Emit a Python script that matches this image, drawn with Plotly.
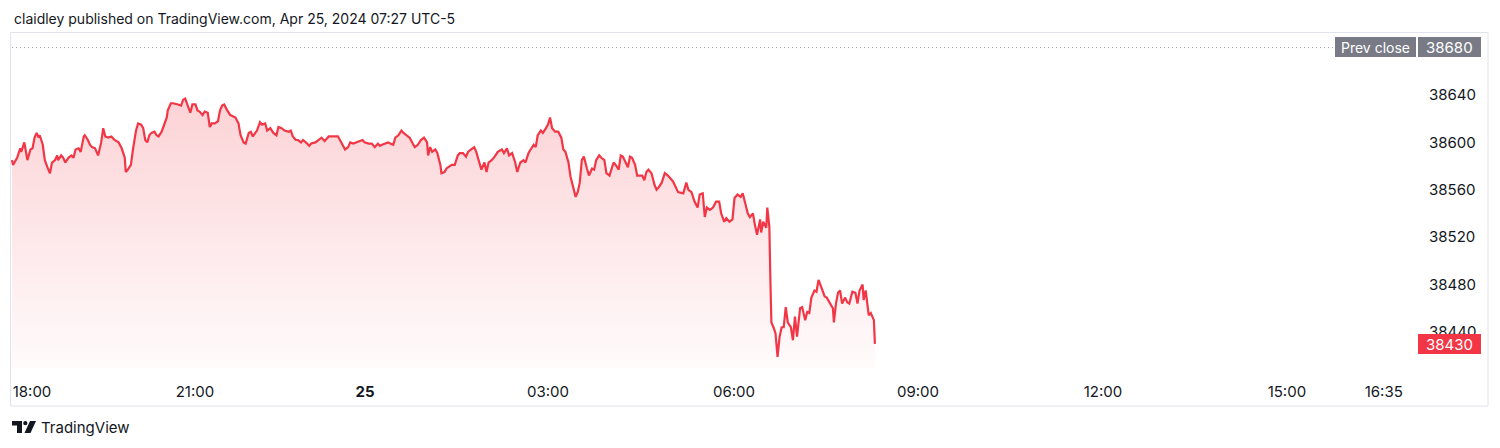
import plotly.graph_objects as go

# ---------------- data ----------------
# bar offset (minutes of trading, gaps compressed) since the 18:00 session open
bars = [0, 1, 5, 8, 9, 12, 13, 15, 18, 20, 22, 24, 26, 27, 30, 32, 35, 37, 39, 42, 44, 45, 48, 50, 52, 55, 58, 60,
        62, 65, 67, 70, 71, 74, 76, 78, 81, 84, 87, 89, 91, 94, 97, 100, 104, 107, 110, 111, 113, 116, 118, 121, 123,
        126, 128, 130, 132, 134, 136, 139, 141, 143, 146, 149, 151, 152, 155, 157, 160, 162, 165, 167, 169, 172, 174,
        176, 179, 181, 183, 186, 188, 191, 193, 195, 198, 201, 203, 205, 207, 210, 213, 218, 221, 223, 226, 228, 231,
        233, 235, 239, 242, 244, 247, 249, 252, 255, 258, 260, 263, 266, 270, 272, 274, 277, 279, 282, 284, 288, 290,
        292, 296, 299, 302, 305, 309, 311, 314, 318, 320, 322, 325, 328, 330, 333, 336, 339, 342, 344, 348, 351, 354,
        357, 359, 361, 364, 367, 369, 372, 374, 377, 380, 382, 385, 388, 391, 393, 396, 399, 402, 405, 406, 408, 410,
        413, 415, 418, 419, 422, 424, 426, 429, 432, 435, 437, 440, 443, 445, 448, 451, 453, 456, 458, 461, 463, 465,
        468, 471, 474, 478, 480, 483, 485, 488, 491, 493, 496, 499, 501, 504, 506, 509, 511, 513, 516, 518, 521, 523,
        525, 527, 530, 533, 536, 538, 540, 543, 545, 548, 550, 552, 554, 556, 558, 561, 563, 566, 568, 570, 573, 575,
        578, 580, 583, 587, 589, 592, 594, 596, 599, 601, 603, 605, 608, 610, 613, 615, 617, 619, 621, 624, 627, 629,
        631, 634, 637, 640, 645, 650, 655, 658, 660, 663, 666, 669, 671, 674, 676, 678, 681, 684, 687, 690, 692, 695,
        697, 700, 703, 705, 708, 711, 713, 715, 718, 720, 723, 725, 727, 730, 731, 733, 736, 737, 739, 740, 741, 743,
        745, 747, 749, 751, 753, 755, 757, 760, 762, 764, 766, 767, 769, 771, 774, 776, 778, 780, 783, 785, 787, 790,
        793, 795, 798, 801, 802, 804, 806, 808, 810, 813, 815, 817, 820, 823, 825, 827, 830, 831, 833, 836, 838, 841,
        842]

prices = [38585, 38581, 38587, 38595, 38592, 38600, 38595, 38585, 38594, 38595, 38604, 38608, 38604, 38606, 38598,
          38585, 38578, 38574, 38583, 38585, 38589, 38585, 38589, 38587, 38583, 38587, 38589, 38587, 38594, 38595,
          38592, 38605, 38606, 38602, 38598, 38596, 38595, 38589, 38600, 38612, 38605, 38604, 38605, 38602, 38600,
          38595, 38587, 38575, 38577, 38581, 38594, 38610, 38616, 38615, 38612, 38602, 38600, 38606, 38608, 38609,
          38606, 38605, 38609, 38617, 38621, 38627, 38633, 38633, 38632, 38632, 38631, 38636, 38637, 38630, 38625,
          38632, 38632, 38627, 38626, 38623, 38626, 38625, 38613, 38616, 38616, 38618, 38627, 38631, 38632, 38627,
          38623, 38621, 38616, 38606, 38600, 38599, 38608, 38609, 38605, 38610, 38617, 38615, 38616, 38610, 38612,
          38608, 38606, 38613, 38612, 38610, 38609, 38610, 38605, 38602, 38602, 38600, 38602, 38599, 38597, 38599,
          38600, 38602, 38604, 38601, 38605, 38605, 38605, 38605, 38602, 38599, 38594, 38596, 38600, 38599, 38600,
          38601, 38602, 38600, 38599, 38599, 38596, 38599, 38597, 38598, 38599, 38600, 38599, 38598, 38604, 38606,
          38610, 38608, 38606, 38604, 38599, 38596, 38598, 38602, 38604, 38600, 38589, 38596, 38592, 38594, 38591,
          38581, 38574, 38575, 38578, 38579, 38581, 38581, 38589, 38591, 38591, 38588, 38592, 38594, 38596, 38592,
          38583, 38577, 38583, 38575, 38583, 38585, 38588, 38592, 38594, 38591, 38595, 38589, 38591, 38583, 38575,
          38583, 38585, 38583, 38591, 38594, 38598, 38596, 38606, 38610, 38608, 38612, 38615, 38621, 38612, 38609,
          38609, 38604, 38594, 38592, 38583, 38571, 38562, 38554, 38558, 38566, 38585, 38588, 38578, 38572, 38578,
          38577, 38585, 38589, 38587, 38585, 38574, 38572, 38583, 38581, 38577, 38589, 38588, 38583, 38579, 38588,
          38587, 38581, 38572, 38572, 38572, 38568, 38575, 38577, 38574, 38564, 38560, 38562, 38566, 38574, 38572,
          38567, 38558, 38557, 38566, 38560, 38558, 38550, 38545, 38556, 38557, 38537, 38545, 38543, 38545, 38550,
          38550, 38540, 38533, 38536, 38533, 38535, 38553, 38556, 38554, 38557, 38549, 38540, 38537, 38540, 38530,
          38522, 38535, 38524, 38533, 38528, 38545, 38529, 38484, 38448, 38444, 38439, 38419, 38436, 38444, 38444,
          38461, 38448, 38444, 38433, 38453, 38436, 38444, 38460, 38461, 38450, 38457, 38456, 38469, 38475, 38474,
          38484, 38477, 38470, 38469, 38464, 38460, 38448, 38464, 38473, 38475, 38464, 38469, 38465, 38464, 38474,
          38473, 38464, 38475, 38480, 38467, 38475, 38454, 38456, 38450, 38430]

prev_close = 38680
last_price = prices[-1]

price_ticks = [38640, 38600, 38560, 38520, 38480, 38440]
time_tick_pos = [19.5, 178.5, 344.5, 523, 704.5, 884, 1064.5, 1244, 1338.5]
time_tick_text = ["18:00", "21:00", "<b>25</b>", "03:00", "06:00", "09:00", "12:00", "15:00", "16:35"]

header = "claidley published on TradingView.com, Apr 25, 2024 07:27 UTC-5"

# ---------------- layout geometry ----------------
# the page body has an 8px default margin, so the figure is drawn 8px smaller
OFF = 8
W, H = 1500, 448
L, R, T, B = 11, 1416, 33, 368          # price pane in page pixels
X_RANGE = [-1, 1370]
Y_RANGE = [38409.6, 38692.3]

RED = "#F23645"
GRAY = "#787B86"
TXT = "#131722"
FONT = "Inter, 'Open Sans', sans-serif"


def px(x):
    return (x - L) / (R - L)


def py(y):
    return (B - y) / (B - T)


fig = go.Figure()

# baseline for gradient area
fig.add_trace(go.Scatter(x=[bars[0], bars[-1]], y=[Y_RANGE[0], Y_RANGE[0]], mode="lines",
                         line=dict(width=0, color="rgba(0,0,0,0)"), hoverinfo="skip", showlegend=False))
fig.add_trace(go.Scatter(
    x=bars, y=prices, mode="lines",
    line=dict(color=RED, width=2.2),
    fill="tonexty",
    fillgradient=dict(type="vertical",
                      colorscale=[[0, "rgba(242,54,69,0.02)"], [1, "rgba(242,54,69,0.22)"]],
                      start=Y_RANGE[0], stop=max(prices)),
    hoverinfo="skip", showlegend=False))

shapes = []
# outer frame
shapes.append(dict(type="rect", xref="paper", yref="paper", x0=px(10.5), x1=px(1488), y0=py(406), y1=py(32.5),
                   line=dict(color="#E0E3EB", width=1), fillcolor="rgba(0,0,0,0)", layer="below"))
# previous close dotted line
shapes.append(dict(type="line", xref="paper", yref="y", x0=px(12), x1=px(1334), y0=prev_close, y1=prev_close,
                   line=dict(color="#9598A1", width=1, dash="1px,3px")))
# label boxes
shapes.append(dict(type="rect", xref="paper", yref="paper", x0=px(1335), x1=px(1416), y0=py(57), y1=py(37),
                   line=dict(width=0), fillcolor=GRAY))
shapes.append(dict(type="rect", xref="paper", yref="paper", x0=px(1418), x1=px(1481), y0=py(57), y1=py(37),
                   line=dict(width=0), fillcolor=GRAY))
shapes.append(dict(type="rect", xref="paper", yref="paper", x0=px(1418), x1=px(1481), y0=py(354), y1=py(334),
                   line=dict(width=0), fillcolor=RED))
# TradingView logo (approximation)
logo_T = f"M {px(12)},{py(421)} L {px(22)},{py(421)} L {px(22)},{py(433)} L {px(17)},{py(433)} L {px(17)},{py(425.5)} L {px(12)},{py(425.5)} Z"
logo_S = f"M {px(30)},{py(421)} L {px(36)},{py(421)} L {px(30.5)},{py(433)} L {px(24.5)},{py(433)} Z"
shapes.append(dict(type="path", xref="paper", yref="paper", path=logo_T, fillcolor=TXT, line=dict(width=0)))
shapes.append(dict(type="path", xref="paper", yref="paper", path=logo_S, fillcolor=TXT, line=dict(width=0)))
shapes.append(dict(type="circle", xref="paper", yref="paper", x0=px(23.2), x1=px(27.4), y0=py(425.3), y1=py(421.1),
                   fillcolor=TXT, line=dict(width=0)))

annotations = [
    dict(text=header, xref="paper", yref="paper", x=px(12), y=py(18), xanchor="left", yanchor="middle",
         showarrow=False, font=dict(family=FONT, size=14, color=TXT)),
    dict(text="TradingView", xref="paper", yref="paper", x=px(39), y=py(427), xanchor="left", yanchor="middle",
         showarrow=False, font=dict(family=FONT, size=15, color=TXT)),
    dict(text="Prev close", xref="paper", yref="paper", x=px(1375.5), y=py(47), xanchor="center", yanchor="middle",
         showarrow=False, font=dict(family=FONT, size=14, color="white")),
    dict(text=str(prev_close), xref="paper", yref="paper", x=px(1449.5), y=py(47), xanchor="center",
         yanchor="middle", showarrow=False, font=dict(family=FONT, size=15, color="white")),
    dict(text=str(last_price), xref="paper", yref="paper", x=px(1449.5), y=py(344), xanchor="center",
         yanchor="middle", showarrow=False, font=dict(family=FONT, size=15, color="white")),
]

fig.update_layout(
    width=W - OFF, height=H - OFF,
    margin=dict(l=L - OFF, r=W - R, t=T - OFF, b=H - B, pad=0),
    paper_bgcolor="white", plot_bgcolor="white",
    shapes=shapes, annotations=annotations,
    showlegend=False, hovermode=False,
    font=dict(family=FONT, size=15, color=TXT),
    xaxis=dict(range=X_RANGE, showgrid=False, zeroline=False, showline=False, ticks="",
               tickmode="array", tickvals=time_tick_pos, ticktext=time_tick_text,
               tickfont=dict(family=FONT, size=15, color=TXT), ticklabelstandoff=13, fixedrange=True),
    yaxis=dict(range=Y_RANGE, side="right", showgrid=False, zeroline=False, showline=False, ticks="",
               tickmode="array", tickvals=price_ticks, ticktext=[str(v) for v in price_ticks],
               tickfont=dict(family=FONT, size=15, color=TXT), ticklabelstandoff=12, fixedrange=True),
)

fig.write_html("out.html")
